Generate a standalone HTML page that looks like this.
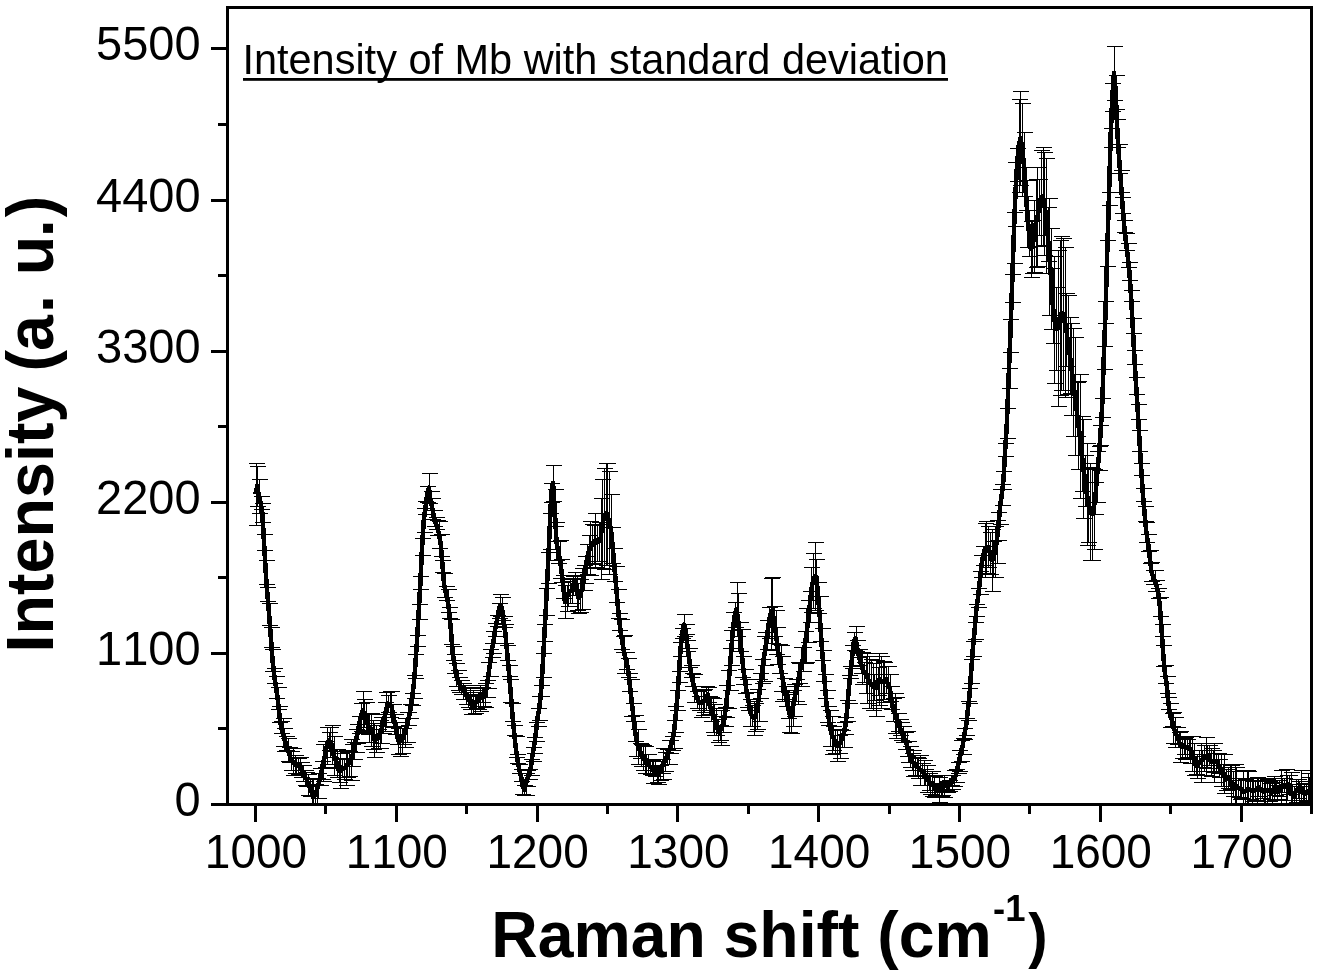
<!DOCTYPE html>
<html><head><meta charset="utf-8"><title>Intensity of Mb with standard deviation</title>
<style>html,body{margin:0;padding:0;background:#fff}svg{display:block}text{font-family:"Liberation Sans",Arial,Helvetica,sans-serif;fill:#000;font-kerning:none}</style></head><body>
<svg width="1319" height="975" viewBox="0 0 1319 975">
<rect width="1319" height="975" fill="#fff"/>
<defs><clipPath id="c"><rect x="227.5" y="7.5" width="1084.0" height="797.0"/></clipPath></defs>
<g clip-path="url(#c)">
<path d="M256.5 463.5V525.5M248.5 463.5H264.5M248.5 525.5H264.5M257.5 466.5V506.5M249.5 466.5H265.5M249.5 506.5H265.5M259.5 479.5V513.5M251.5 479.5H267.5M251.5 513.5H267.5M261.5 496.5V509.5M253.5 496.5H269.5M253.5 509.5H269.5M262.5 503.5V522.5M254.5 503.5H270.5M254.5 522.5H270.5M264.5 534.5V550.5M256.5 534.5H272.5M256.5 550.5H272.5M266.5 560.5V584.5M258.5 560.5H274.5M258.5 584.5H274.5M267.5 587.5V601.5M259.5 587.5H275.5M259.5 601.5H275.5M269.5 603.5V625.5M261.5 603.5H277.5M261.5 625.5H277.5M271.5 627.5V647.5M263.5 627.5H279.5M263.5 647.5H279.5M272.5 649.5V671.5M264.5 649.5H280.5M264.5 671.5H280.5M274.5 668.5V683.5M266.5 668.5H282.5M266.5 683.5H282.5M276.5 676.5V698.5M268.5 676.5H284.5M268.5 698.5H284.5M278.5 687.5V709.5M270.5 687.5H286.5M270.5 709.5H286.5M279.5 706.5V722.5M271.5 706.5H287.5M271.5 722.5H287.5M281.5 721.5V733.5M273.5 721.5H289.5M273.5 733.5H289.5M283.5 718.5V746.5M275.5 718.5H291.5M275.5 746.5H291.5M284.5 728.5V751.5M276.5 728.5H292.5M276.5 751.5H292.5M286.5 736.5V750.5M278.5 736.5H294.5M278.5 750.5H294.5M288.5 738.5V761.5M280.5 738.5H296.5M280.5 761.5H296.5M289.5 747.5V762.5M281.5 747.5H297.5M281.5 762.5H297.5M291.5 751.5V770.5M283.5 751.5H299.5M283.5 770.5H299.5M293.5 748.5V775.5M285.5 748.5H301.5M285.5 775.5H301.5M295.5 755.5V773.5M287.5 755.5H303.5M287.5 773.5H303.5M296.5 757.5V773.5M288.5 757.5H304.5M288.5 773.5H304.5M298.5 758.5V774.5M290.5 758.5H306.5M290.5 774.5H306.5M300.5 757.5V770.5M292.5 757.5H308.5M292.5 770.5H308.5M301.5 762.5V777.5M293.5 762.5H309.5M293.5 777.5H309.5M303.5 765.5V781.5M295.5 765.5H311.5M295.5 781.5H311.5M305.5 770.5V785.5M297.5 770.5H313.5M297.5 785.5H313.5M306.5 772.5V786.5M298.5 772.5H314.5M298.5 786.5H314.5M308.5 774.5V795.5M300.5 774.5H316.5M300.5 795.5H316.5M310.5 779.5V796.5M302.5 779.5H318.5M302.5 796.5H318.5M312.5 778.5V806.5M304.5 778.5H320.5M304.5 806.5H320.5M313.5 779.5V814.5M305.5 779.5H321.5M305.5 814.5H321.5M315.5 784.5V803.5M307.5 784.5H323.5M307.5 803.5H323.5M317.5 778.5V803.5M309.5 778.5H325.5M309.5 803.5H325.5M318.5 773.5V798.5M310.5 773.5H326.5M310.5 798.5H326.5M320.5 768.5V785.5M312.5 768.5H328.5M312.5 785.5H328.5M322.5 761.5V779.5M314.5 761.5H330.5M314.5 779.5H330.5M323.5 744.5V781.5M315.5 744.5H331.5M315.5 781.5H331.5M325.5 741.5V767.5M317.5 741.5H333.5M317.5 767.5H333.5M327.5 727.5V764.5M319.5 727.5H335.5M319.5 764.5H335.5M329.5 732.5V750.5M321.5 732.5H337.5M321.5 750.5H337.5M330.5 727.5V757.5M322.5 727.5H338.5M322.5 757.5H338.5M332.5 725.5V764.5M324.5 725.5H340.5M324.5 764.5H340.5M334.5 736.5V775.5M326.5 736.5H342.5M326.5 775.5H342.5M335.5 751.5V768.5M327.5 751.5H343.5M327.5 768.5H343.5M337.5 749.5V777.5M329.5 749.5H345.5M329.5 777.5H345.5M339.5 758.5V782.5M331.5 758.5H347.5M331.5 782.5H347.5M340.5 753.5V788.5M332.5 753.5H348.5M332.5 788.5H348.5M342.5 759.5V777.5M334.5 759.5H350.5M334.5 777.5H350.5M344.5 758.5V779.5M336.5 758.5H352.5M336.5 779.5H352.5M346.5 750.5V785.5M338.5 750.5H354.5M338.5 785.5H354.5M347.5 752.5V777.5M339.5 752.5H355.5M339.5 777.5H355.5M349.5 751.5V776.5M341.5 751.5H357.5M341.5 776.5H357.5M351.5 739.5V780.5M343.5 739.5H359.5M343.5 780.5H359.5M352.5 744.5V766.5M344.5 744.5H360.5M344.5 766.5H360.5M354.5 742.5V759.5M346.5 742.5H362.5M346.5 759.5H362.5M356.5 729.5V752.5M348.5 729.5H364.5M348.5 752.5H364.5M357.5 724.5V743.5M349.5 724.5H365.5M349.5 743.5H365.5M359.5 716.5V733.5M351.5 716.5H367.5M351.5 733.5H367.5M361.5 703.5V731.5M353.5 703.5H369.5M353.5 731.5H369.5M363.5 691.5V730.5M355.5 691.5H371.5M355.5 730.5H371.5M364.5 699.5V727.5M356.5 699.5H372.5M356.5 727.5H372.5M366.5 702.5V732.5M358.5 702.5H374.5M358.5 732.5H374.5M368.5 713.5V734.5M360.5 713.5H376.5M360.5 734.5H376.5M369.5 714.5V742.5M361.5 714.5H377.5M361.5 742.5H377.5M371.5 713.5V746.5M363.5 713.5H379.5M363.5 746.5H379.5M373.5 720.5V749.5M365.5 720.5H381.5M365.5 749.5H381.5M374.5 723.5V757.5M366.5 723.5H382.5M366.5 757.5H382.5M376.5 725.5V752.5M368.5 725.5H384.5M368.5 752.5H384.5M378.5 729.5V748.5M370.5 729.5H386.5M370.5 748.5H386.5M380.5 720.5V748.5M372.5 720.5H388.5M372.5 748.5H388.5M381.5 717.5V743.5M373.5 717.5H389.5M373.5 743.5H389.5M383.5 714.5V733.5M375.5 714.5H391.5M375.5 733.5H391.5M385.5 702.5V731.5M377.5 702.5H393.5M377.5 731.5H393.5M386.5 692.5V726.5M378.5 692.5H394.5M378.5 726.5H394.5M388.5 695.5V712.5M380.5 695.5H396.5M380.5 712.5H396.5M390.5 691.5V717.5M382.5 691.5H398.5M382.5 717.5H398.5M391.5 691.5V722.5M383.5 691.5H399.5M383.5 722.5H399.5M393.5 704.5V727.5M385.5 704.5H401.5M385.5 727.5H401.5M395.5 714.5V734.5M387.5 714.5H403.5M387.5 734.5H403.5M397.5 722.5V744.5M389.5 722.5H405.5M389.5 744.5H405.5M398.5 728.5V754.5M390.5 728.5H406.5M390.5 754.5H406.5M400.5 726.5V756.5M392.5 726.5H408.5M392.5 756.5H408.5M402.5 728.5V753.5M394.5 728.5H410.5M394.5 753.5H410.5M403.5 728.5V744.5M395.5 728.5H411.5M395.5 744.5H411.5M405.5 718.5V747.5M397.5 718.5H413.5M397.5 747.5H413.5M407.5 712.5V742.5M399.5 712.5H415.5M399.5 742.5H415.5M408.5 712.5V725.5M400.5 712.5H416.5M400.5 725.5H416.5M410.5 704.5V718.5M402.5 704.5H418.5M402.5 718.5H418.5M412.5 693.5V705.5M404.5 693.5H420.5M404.5 705.5H420.5M414.5 675.5V698.5M406.5 675.5H422.5M406.5 698.5H422.5M415.5 654.5V678.5M407.5 654.5H423.5M407.5 678.5H423.5M417.5 635.5V646.5M409.5 635.5H425.5M409.5 646.5H425.5M419.5 604.5V619.5M411.5 604.5H427.5M411.5 619.5H427.5M420.5 576.5V589.5M412.5 576.5H428.5M412.5 589.5H428.5M422.5 538.5V555.5M414.5 538.5H430.5M414.5 555.5H430.5M424.5 508.5V532.5M416.5 508.5H432.5M416.5 532.5H432.5M425.5 501.5V514.5M417.5 501.5H433.5M417.5 514.5H433.5M427.5 486.5V502.5M419.5 486.5H435.5M419.5 502.5H435.5M429.5 473.5V503.5M421.5 473.5H437.5M421.5 503.5H437.5M431.5 491.5V510.5M423.5 491.5H439.5M423.5 510.5H439.5M432.5 498.5V519.5M424.5 498.5H440.5M424.5 519.5H440.5M434.5 510.5V526.5M426.5 510.5H442.5M426.5 526.5H442.5M436.5 517.5V529.5M428.5 517.5H444.5M428.5 529.5H444.5M437.5 520.5V535.5M429.5 520.5H445.5M429.5 535.5H445.5M439.5 521.5V548.5M431.5 521.5H447.5M431.5 548.5H447.5M441.5 534.5V556.5M433.5 534.5H449.5M433.5 556.5H449.5M442.5 560.5V572.5M434.5 560.5H450.5M434.5 572.5H450.5M444.5 573.5V597.5M436.5 573.5H452.5M436.5 597.5H452.5M446.5 586.5V600.5M438.5 586.5H454.5M438.5 600.5H454.5M448.5 589.5V612.5M440.5 589.5H456.5M440.5 612.5H456.5M449.5 607.5V618.5M441.5 607.5H457.5M441.5 618.5H457.5M451.5 619.5V644.5M443.5 619.5H459.5M443.5 644.5H459.5M453.5 646.5V660.5M445.5 646.5H461.5M445.5 660.5H461.5M454.5 654.5V673.5M446.5 654.5H462.5M446.5 673.5H462.5M456.5 663.5V686.5M448.5 663.5H464.5M448.5 686.5H464.5M458.5 670.5V690.5M450.5 670.5H466.5M450.5 690.5H466.5M459.5 677.5V692.5M451.5 677.5H467.5M451.5 692.5H467.5M461.5 680.5V694.5M453.5 680.5H469.5M453.5 694.5H469.5M463.5 683.5V699.5M455.5 683.5H471.5M455.5 699.5H471.5M465.5 685.5V699.5M457.5 685.5H473.5M457.5 699.5H473.5M466.5 687.5V704.5M458.5 687.5H474.5M458.5 704.5H474.5M468.5 692.5V707.5M460.5 692.5H476.5M460.5 707.5H476.5M470.5 688.5V709.5M462.5 688.5H478.5M462.5 709.5H478.5M471.5 695.5V714.5M463.5 695.5H479.5M463.5 714.5H479.5M473.5 690.5V714.5M465.5 690.5H481.5M465.5 714.5H481.5M475.5 696.5V713.5M467.5 696.5H483.5M467.5 713.5H483.5M476.5 694.5V708.5M468.5 694.5H484.5M468.5 708.5H484.5M478.5 692.5V709.5M470.5 692.5H486.5M470.5 709.5H486.5M480.5 685.5V711.5M472.5 685.5H488.5M472.5 711.5H488.5M482.5 687.5V702.5M474.5 687.5H490.5M474.5 702.5H490.5M483.5 688.5V706.5M475.5 688.5H491.5M475.5 706.5H491.5M485.5 683.5V707.5M477.5 683.5H493.5M477.5 707.5H493.5M487.5 680.5V697.5M479.5 680.5H495.5M479.5 697.5H495.5M488.5 662.5V688.5M480.5 662.5H496.5M480.5 688.5H496.5M490.5 649.5V676.5M482.5 649.5H498.5M482.5 676.5H498.5M492.5 643.5V657.5M484.5 643.5H500.5M484.5 657.5H500.5M493.5 631.5V653.5M485.5 631.5H501.5M485.5 653.5H501.5M495.5 623.5V636.5M487.5 623.5H503.5M487.5 636.5H503.5M497.5 615.5V626.5M489.5 615.5H505.5M489.5 626.5H505.5M499.5 603.5V618.5M491.5 603.5H507.5M491.5 618.5H507.5M500.5 594.5V616.5M492.5 594.5H508.5M492.5 616.5H508.5M502.5 597.5V620.5M494.5 597.5H510.5M494.5 620.5H510.5M504.5 616.5V627.5M496.5 616.5H512.5M496.5 627.5H512.5M505.5 624.5V643.5M497.5 624.5H513.5M497.5 643.5H513.5M507.5 645.5V660.5M499.5 645.5H515.5M499.5 660.5H515.5M509.5 665.5V676.5M501.5 665.5H517.5M501.5 676.5H517.5M510.5 679.5V702.5M502.5 679.5H518.5M502.5 702.5H518.5M512.5 703.5V721.5M504.5 703.5H520.5M504.5 721.5H520.5M514.5 725.5V735.5M506.5 725.5H522.5M506.5 735.5H522.5M516.5 736.5V757.5M508.5 736.5H524.5M508.5 757.5H524.5M517.5 754.5V763.5M509.5 754.5H525.5M509.5 763.5H525.5M519.5 764.5V773.5M511.5 764.5H527.5M511.5 773.5H527.5M521.5 769.5V781.5M513.5 769.5H529.5M513.5 781.5H529.5M522.5 773.5V794.5M514.5 773.5H530.5M514.5 794.5H530.5M524.5 785.5V795.5M516.5 785.5H532.5M516.5 795.5H532.5M526.5 773.5V795.5M518.5 773.5H534.5M518.5 795.5H534.5M527.5 770.5V786.5M519.5 770.5H535.5M519.5 786.5H535.5M529.5 769.5V779.5M521.5 769.5H537.5M521.5 779.5H537.5M531.5 759.5V775.5M523.5 759.5H539.5M523.5 775.5H539.5M533.5 747.5V761.5M525.5 747.5H541.5M525.5 761.5H541.5M534.5 737.5V753.5M526.5 737.5H542.5M526.5 753.5H542.5M536.5 722.5V741.5M528.5 722.5H544.5M528.5 741.5H544.5M538.5 708.5V726.5M530.5 708.5H546.5M530.5 726.5H546.5M539.5 696.5V720.5M531.5 696.5H547.5M531.5 720.5H547.5M541.5 685.5V696.5M533.5 685.5H549.5M533.5 696.5H549.5M543.5 653.5V677.5M535.5 653.5H551.5M535.5 677.5H551.5M544.5 624.5V641.5M536.5 624.5H552.5M536.5 641.5H552.5M546.5 588.5V615.5M538.5 588.5H554.5M538.5 615.5H554.5M548.5 552.5V583.5M540.5 552.5H556.5M540.5 583.5H556.5M550.5 513.5V549.5M542.5 513.5H558.5M542.5 549.5H558.5M551.5 483.5V502.5M543.5 483.5H559.5M543.5 502.5H559.5M553.5 465.5V501.5M545.5 465.5H561.5M545.5 501.5H561.5M555.5 489.5V526.5M547.5 489.5H563.5M547.5 526.5H563.5M556.5 522.5V560.5M548.5 522.5H564.5M548.5 560.5H564.5M558.5 541.5V563.5M550.5 541.5H566.5M550.5 563.5H566.5M560.5 540.5V578.5M552.5 540.5H568.5M552.5 578.5H568.5M561.5 559.5V582.5M553.5 559.5H569.5M553.5 582.5H569.5M563.5 575.5V598.5M555.5 575.5H571.5M555.5 598.5H571.5M565.5 585.5V618.5M557.5 585.5H573.5M557.5 618.5H573.5M567.5 585.5V611.5M559.5 585.5H575.5M559.5 611.5H575.5M568.5 581.5V606.5M560.5 581.5H576.5M560.5 606.5H576.5M570.5 579.5V603.5M562.5 579.5H578.5M562.5 603.5H578.5M572.5 578.5V603.5M564.5 578.5H580.5M564.5 603.5H580.5M573.5 576.5V595.5M565.5 576.5H581.5M565.5 595.5H581.5M575.5 572.5V590.5M567.5 572.5H583.5M567.5 590.5H583.5M577.5 575.5V610.5M569.5 575.5H585.5M569.5 610.5H585.5M578.5 583.5V613.5M570.5 583.5H586.5M570.5 613.5H586.5M580.5 579.5V612.5M572.5 579.5H588.5M572.5 612.5H588.5M582.5 568.5V609.5M574.5 568.5H590.5M574.5 609.5H590.5M584.5 565.5V590.5M576.5 565.5H592.5M576.5 590.5H592.5M585.5 556.5V583.5M577.5 556.5H593.5M577.5 583.5H593.5M587.5 544.5V574.5M579.5 544.5H595.5M579.5 574.5H595.5M589.5 535.5V568.5M581.5 535.5H597.5M581.5 568.5H597.5M590.5 521.5V575.5M582.5 521.5H598.5M582.5 575.5H598.5M592.5 524.5V563.5M584.5 524.5H600.5M584.5 563.5H600.5M594.5 525.5V564.5M586.5 525.5H602.5M586.5 564.5H602.5M595.5 513.5V567.5M587.5 513.5H603.5M587.5 567.5H603.5M597.5 524.5V561.5M589.5 524.5H605.5M589.5 561.5H605.5M599.5 522.5V561.5M591.5 522.5H607.5M591.5 561.5H607.5M601.5 498.5V579.5M593.5 498.5H609.5M593.5 579.5H609.5M602.5 479.5V568.5M594.5 479.5H610.5M594.5 568.5H610.5M604.5 468.5V569.5M596.5 468.5H612.5M596.5 569.5H612.5M606.5 463.5V565.5M598.5 463.5H614.5M598.5 565.5H614.5M607.5 463.5V565.5M599.5 463.5H615.5M599.5 565.5H615.5M609.5 471.5V574.5M601.5 471.5H617.5M601.5 574.5H617.5M611.5 494.5V563.5M603.5 494.5H619.5M603.5 563.5H619.5M612.5 527.5V563.5M604.5 527.5H620.5M604.5 563.5H620.5M614.5 548.5V581.5M606.5 548.5H622.5M606.5 581.5H622.5M616.5 566.5V602.5M608.5 566.5H624.5M608.5 602.5H624.5M618.5 589.5V618.5M610.5 589.5H626.5M610.5 618.5H626.5M619.5 613.5V630.5M611.5 613.5H627.5M611.5 630.5H627.5M621.5 619.5V649.5M613.5 619.5H629.5M613.5 649.5H629.5M623.5 636.5V652.5M615.5 636.5H631.5M615.5 652.5H631.5M624.5 635.5V673.5M616.5 635.5H632.5M616.5 673.5H632.5M626.5 652.5V669.5M618.5 652.5H634.5M618.5 669.5H634.5M628.5 658.5V677.5M620.5 658.5H636.5M620.5 677.5H636.5M629.5 673.5V691.5M621.5 673.5H637.5M621.5 691.5H637.5M631.5 679.5V716.5M623.5 679.5H639.5M623.5 716.5H639.5M633.5 703.5V721.5M625.5 703.5H641.5M625.5 721.5H641.5M635.5 715.5V741.5M627.5 715.5H643.5M627.5 741.5H643.5M636.5 721.5V756.5M628.5 721.5H644.5M628.5 756.5H644.5M638.5 729.5V764.5M630.5 729.5H646.5M630.5 764.5H646.5M640.5 743.5V758.5M632.5 743.5H648.5M632.5 758.5H648.5M641.5 744.5V766.5M633.5 744.5H649.5M633.5 766.5H649.5M643.5 745.5V770.5M635.5 745.5H651.5M635.5 770.5H651.5M645.5 746.5V773.5M637.5 746.5H653.5M637.5 773.5H653.5M646.5 754.5V773.5M638.5 754.5H654.5M638.5 773.5H654.5M648.5 754.5V773.5M640.5 754.5H656.5M640.5 773.5H656.5M650.5 759.5V774.5M642.5 759.5H658.5M642.5 774.5H658.5M652.5 760.5V775.5M644.5 760.5H660.5M644.5 775.5H660.5M653.5 759.5V783.5M645.5 759.5H661.5M645.5 783.5H661.5M655.5 761.5V776.5M647.5 761.5H663.5M647.5 776.5H663.5M657.5 766.5V782.5M649.5 766.5H665.5M649.5 782.5H665.5M658.5 765.5V784.5M650.5 765.5H666.5M650.5 784.5H666.5M660.5 765.5V780.5M652.5 765.5H668.5M652.5 780.5H668.5M662.5 759.5V773.5M654.5 759.5H670.5M654.5 773.5H670.5M663.5 748.5V779.5M655.5 748.5H671.5M655.5 779.5H671.5M665.5 752.5V771.5M657.5 752.5H673.5M657.5 771.5H673.5M667.5 749.5V764.5M659.5 749.5H675.5M659.5 764.5H675.5M669.5 740.5V764.5M661.5 740.5H677.5M661.5 764.5H677.5M670.5 740.5V753.5M662.5 740.5H678.5M662.5 753.5H678.5M672.5 736.5V750.5M664.5 736.5H680.5M664.5 750.5H680.5M674.5 720.5V748.5M666.5 720.5H682.5M666.5 748.5H682.5M675.5 706.5V732.5M667.5 706.5H683.5M667.5 732.5H683.5M677.5 690.5V710.5M669.5 690.5H685.5M669.5 710.5H685.5M679.5 671.5V682.5M671.5 671.5H687.5M671.5 682.5H687.5M680.5 642.5V656.5M672.5 642.5H688.5M672.5 656.5H688.5M682.5 628.5V638.5M674.5 628.5H690.5M674.5 638.5H690.5M684.5 614.5V636.5M676.5 614.5H692.5M676.5 636.5H692.5M686.5 624.5V634.5M678.5 624.5H694.5M678.5 634.5H694.5M687.5 640.5V651.5M679.5 640.5H695.5M679.5 651.5H695.5M689.5 648.5V667.5M681.5 648.5H697.5M681.5 667.5H697.5M691.5 665.5V677.5M683.5 665.5H699.5M683.5 677.5H699.5M692.5 673.5V686.5M684.5 673.5H700.5M684.5 686.5H700.5M694.5 674.5V702.5M686.5 674.5H702.5M686.5 702.5H702.5M696.5 686.5V702.5M688.5 686.5H704.5M688.5 702.5H704.5M697.5 691.5V708.5M689.5 691.5H705.5M689.5 708.5H705.5M699.5 696.5V710.5M691.5 696.5H707.5M691.5 710.5H707.5M701.5 689.5V717.5M693.5 689.5H709.5M693.5 717.5H709.5M703.5 690.5V715.5M695.5 690.5H711.5M695.5 715.5H711.5M704.5 689.5V712.5M696.5 689.5H712.5M696.5 712.5H712.5M706.5 686.5V710.5M698.5 686.5H714.5M698.5 710.5H714.5M708.5 687.5V702.5M700.5 687.5H716.5M700.5 702.5H716.5M709.5 696.5V714.5M701.5 696.5H717.5M701.5 714.5H717.5M711.5 697.5V721.5M703.5 697.5H719.5M703.5 721.5H719.5M713.5 698.5V732.5M705.5 698.5H721.5M705.5 732.5H721.5M714.5 704.5V735.5M706.5 704.5H722.5M706.5 735.5H722.5M716.5 708.5V735.5M708.5 708.5H724.5M708.5 735.5H724.5M718.5 719.5V742.5M710.5 719.5H726.5M710.5 742.5H726.5M720.5 725.5V740.5M712.5 725.5H728.5M712.5 740.5H728.5M721.5 710.5V745.5M713.5 710.5H729.5M713.5 745.5H729.5M723.5 716.5V732.5M715.5 716.5H731.5M715.5 732.5H731.5M725.5 707.5V726.5M717.5 707.5H733.5M717.5 726.5H733.5M726.5 685.5V717.5M718.5 685.5H734.5M718.5 717.5H734.5M728.5 670.5V708.5M720.5 670.5H736.5M720.5 708.5H736.5M730.5 648.5V690.5M722.5 648.5H738.5M722.5 690.5H738.5M731.5 630.5V665.5M723.5 630.5H739.5M723.5 665.5H739.5M733.5 612.5V640.5M725.5 612.5H741.5M725.5 640.5H741.5M735.5 602.5V627.5M727.5 602.5H743.5M727.5 627.5H743.5M737.5 582.5V636.5M729.5 582.5H745.5M729.5 636.5H745.5M738.5 593.5V651.5M730.5 593.5H746.5M730.5 651.5H746.5M740.5 622.5V651.5M732.5 622.5H748.5M732.5 651.5H748.5M742.5 629.5V677.5M734.5 629.5H750.5M734.5 677.5H750.5M743.5 656.5V684.5M735.5 656.5H751.5M735.5 684.5H751.5M745.5 669.5V693.5M737.5 669.5H753.5M737.5 693.5H753.5M747.5 679.5V707.5M739.5 679.5H755.5M739.5 707.5H755.5M748.5 692.5V710.5M740.5 692.5H756.5M740.5 710.5H756.5M750.5 699.5V726.5M742.5 699.5H758.5M742.5 726.5H758.5M752.5 705.5V726.5M744.5 705.5H760.5M744.5 726.5H760.5M754.5 701.5V735.5M746.5 701.5H762.5M746.5 735.5H762.5M755.5 703.5V731.5M747.5 703.5H763.5M747.5 731.5H763.5M757.5 689.5V729.5M749.5 689.5H765.5M749.5 729.5H765.5M759.5 679.5V721.5M751.5 679.5H767.5M751.5 721.5H767.5M760.5 673.5V698.5M752.5 673.5H768.5M752.5 698.5H768.5M762.5 659.5V683.5M754.5 659.5H770.5M754.5 683.5H770.5M764.5 636.5V681.5M756.5 636.5H772.5M756.5 681.5H772.5M765.5 632.5V665.5M757.5 632.5H773.5M757.5 665.5H773.5M767.5 620.5V649.5M759.5 620.5H775.5M759.5 649.5H775.5M769.5 607.5V638.5M761.5 607.5H777.5M761.5 638.5H777.5M771.5 578.5V650.5M763.5 578.5H779.5M763.5 650.5H779.5M772.5 577.5V643.5M764.5 577.5H780.5M764.5 643.5H780.5M774.5 606.5V636.5M766.5 606.5H782.5M766.5 636.5H782.5M776.5 610.5V654.5M768.5 610.5H784.5M768.5 654.5H784.5M777.5 627.5V664.5M769.5 627.5H785.5M769.5 664.5H785.5M779.5 644.5V673.5M771.5 644.5H787.5M771.5 673.5H787.5M781.5 645.5V691.5M773.5 645.5H789.5M773.5 691.5H789.5M782.5 656.5V701.5M774.5 656.5H790.5M774.5 701.5H790.5M784.5 678.5V699.5M776.5 678.5H792.5M776.5 699.5H792.5M786.5 686.5V706.5M778.5 686.5H794.5M778.5 706.5H794.5M788.5 692.5V718.5M780.5 692.5H796.5M780.5 718.5H796.5M789.5 694.5V732.5M781.5 694.5H797.5M781.5 732.5H797.5M791.5 701.5V733.5M783.5 701.5H799.5M783.5 733.5H799.5M793.5 690.5V726.5M785.5 690.5H801.5M785.5 726.5H801.5M794.5 684.5V716.5M786.5 684.5H802.5M786.5 716.5H802.5M796.5 679.5V701.5M788.5 679.5H804.5M788.5 701.5H804.5M798.5 662.5V704.5M790.5 662.5H806.5M790.5 704.5H806.5M799.5 663.5V683.5M791.5 663.5H807.5M791.5 683.5H807.5M801.5 647.5V686.5M793.5 647.5H809.5M793.5 686.5H809.5M803.5 647.5V671.5M795.5 647.5H811.5M795.5 671.5H811.5M805.5 631.5V663.5M797.5 631.5H813.5M797.5 663.5H813.5M806.5 608.5V662.5M798.5 608.5H814.5M798.5 662.5H814.5M808.5 600.5V642.5M800.5 600.5H816.5M800.5 642.5H816.5M810.5 591.5V622.5M802.5 591.5H818.5M802.5 622.5H818.5M811.5 567.5V612.5M803.5 567.5H819.5M803.5 612.5H819.5M813.5 553.5V608.5M805.5 553.5H821.5M805.5 608.5H821.5M815.5 542.5V610.5M807.5 542.5H823.5M807.5 610.5H823.5M816.5 559.5V596.5M808.5 559.5H824.5M808.5 596.5H824.5M818.5 582.5V613.5M810.5 582.5H826.5M810.5 613.5H826.5M820.5 596.5V641.5M812.5 596.5H828.5M812.5 641.5H828.5M822.5 628.5V660.5M814.5 628.5H830.5M814.5 660.5H830.5M823.5 650.5V681.5M815.5 650.5H831.5M815.5 681.5H831.5M825.5 674.5V698.5M817.5 674.5H833.5M817.5 698.5H833.5M827.5 690.5V722.5M819.5 690.5H835.5M819.5 722.5H835.5M828.5 706.5V725.5M820.5 706.5H836.5M820.5 725.5H836.5M830.5 710.5V746.5M822.5 710.5H838.5M822.5 746.5H838.5M832.5 716.5V754.5M824.5 716.5H840.5M824.5 754.5H840.5M833.5 726.5V750.5M825.5 726.5H841.5M825.5 750.5H841.5M835.5 730.5V753.5M827.5 730.5H843.5M827.5 753.5H843.5M837.5 729.5V761.5M829.5 729.5H845.5M829.5 761.5H845.5M839.5 735.5V753.5M831.5 735.5H847.5M831.5 753.5H847.5M840.5 729.5V758.5M832.5 729.5H848.5M832.5 758.5H848.5M842.5 730.5V747.5M834.5 730.5H850.5M834.5 747.5H850.5M844.5 722.5V747.5M836.5 722.5H852.5M836.5 747.5H852.5M845.5 717.5V734.5M837.5 717.5H853.5M837.5 734.5H853.5M847.5 700.5V721.5M839.5 700.5H855.5M839.5 721.5H855.5M849.5 675.5V703.5M841.5 675.5H857.5M841.5 703.5H857.5M850.5 666.5V678.5M842.5 666.5H858.5M842.5 678.5H858.5M852.5 645.5V668.5M844.5 645.5H860.5M844.5 668.5H860.5M854.5 632.5V650.5M846.5 632.5H862.5M846.5 650.5H862.5M856.5 626.5V651.5M848.5 626.5H864.5M848.5 651.5H864.5M857.5 640.5V657.5M849.5 640.5H865.5M849.5 657.5H865.5M859.5 649.5V665.5M851.5 649.5H867.5M851.5 665.5H867.5M861.5 653.5V673.5M853.5 653.5H869.5M853.5 673.5H869.5M862.5 652.5V684.5M854.5 652.5H870.5M854.5 684.5H870.5M864.5 662.5V682.5M856.5 662.5H872.5M856.5 682.5H872.5M866.5 656.5V693.5M858.5 656.5H874.5M858.5 693.5H874.5M867.5 653.5V703.5M859.5 653.5H875.5M859.5 703.5H875.5M869.5 656.5V708.5M861.5 656.5H877.5M861.5 708.5H877.5M871.5 659.5V708.5M863.5 659.5H879.5M863.5 708.5H879.5M873.5 663.5V710.5M865.5 663.5H881.5M865.5 710.5H881.5M874.5 674.5V700.5M866.5 674.5H882.5M866.5 700.5H882.5M876.5 660.5V716.5M868.5 660.5H884.5M868.5 716.5H884.5M878.5 667.5V695.5M870.5 667.5H886.5M870.5 695.5H886.5M879.5 653.5V705.5M871.5 653.5H887.5M871.5 705.5H887.5M881.5 656.5V708.5M873.5 656.5H889.5M873.5 708.5H889.5M883.5 661.5V702.5M875.5 661.5H891.5M875.5 702.5H891.5M884.5 662.5V699.5M876.5 662.5H892.5M876.5 699.5H892.5M886.5 666.5V693.5M878.5 666.5H894.5M878.5 693.5H894.5M888.5 666.5V702.5M880.5 666.5H896.5M880.5 702.5H896.5M890.5 674.5V701.5M882.5 674.5H898.5M882.5 701.5H898.5M891.5 686.5V709.5M883.5 686.5H899.5M883.5 709.5H899.5M893.5 698.5V721.5M885.5 698.5H901.5M885.5 721.5H901.5M895.5 693.5V733.5M887.5 693.5H903.5M887.5 733.5H903.5M896.5 697.5V738.5M888.5 697.5H904.5M888.5 738.5H904.5M898.5 713.5V731.5M890.5 713.5H906.5M890.5 731.5H906.5M900.5 719.5V735.5M892.5 719.5H908.5M892.5 735.5H908.5M901.5 722.5V740.5M893.5 722.5H909.5M893.5 740.5H909.5M903.5 726.5V742.5M895.5 726.5H911.5M895.5 742.5H911.5M905.5 732.5V749.5M897.5 732.5H913.5M897.5 749.5H913.5M907.5 731.5V756.5M899.5 731.5H915.5M899.5 756.5H915.5M908.5 741.5V762.5M900.5 741.5H916.5M900.5 762.5H916.5M910.5 746.5V767.5M902.5 746.5H918.5M902.5 767.5H918.5M912.5 753.5V770.5M904.5 753.5H920.5M904.5 770.5H920.5M913.5 750.5V776.5M905.5 750.5H921.5M905.5 776.5H921.5M915.5 757.5V775.5M907.5 757.5H923.5M907.5 775.5H923.5M917.5 757.5V776.5M909.5 757.5H925.5M909.5 776.5H925.5M918.5 758.5V778.5M910.5 758.5H926.5M910.5 778.5H926.5M920.5 755.5V785.5M912.5 755.5H928.5M912.5 785.5H928.5M922.5 763.5V778.5M914.5 763.5H930.5M914.5 778.5H930.5M924.5 760.5V785.5M916.5 760.5H932.5M916.5 785.5H932.5M925.5 769.5V785.5M917.5 769.5H933.5M917.5 785.5H933.5M927.5 765.5V792.5M919.5 765.5H935.5M919.5 792.5H935.5M929.5 773.5V790.5M921.5 773.5H937.5M921.5 790.5H937.5M930.5 775.5V794.5M922.5 775.5H938.5M922.5 794.5H938.5M932.5 771.5V796.5M924.5 771.5H940.5M924.5 796.5H940.5M934.5 776.5V797.5M926.5 776.5H942.5M926.5 797.5H942.5M935.5 784.5V795.5M927.5 784.5H943.5M927.5 795.5H943.5M937.5 785.5V796.5M929.5 785.5H945.5M929.5 796.5H945.5M939.5 777.5V802.5M931.5 777.5H947.5M931.5 802.5H947.5M941.5 786.5V796.5M933.5 786.5H949.5M933.5 796.5H949.5M942.5 783.5V795.5M934.5 783.5H950.5M934.5 795.5H950.5M944.5 775.5V797.5M936.5 775.5H952.5M936.5 797.5H952.5M946.5 781.5V790.5M938.5 781.5H954.5M938.5 790.5H954.5M947.5 782.5V792.5M939.5 782.5H955.5M939.5 792.5H955.5M949.5 780.5V791.5M941.5 780.5H957.5M941.5 791.5H957.5M951.5 775.5V785.5M943.5 775.5H959.5M943.5 785.5H959.5M952.5 775.5V789.5M944.5 775.5H960.5M944.5 789.5H960.5M954.5 770.5V786.5M946.5 770.5H962.5M946.5 786.5H962.5M956.5 769.5V782.5M948.5 769.5H964.5M948.5 782.5H964.5M958.5 762.5V773.5M950.5 762.5H966.5M950.5 773.5H966.5M959.5 750.5V771.5M951.5 750.5H967.5M951.5 771.5H967.5M961.5 740.5V761.5M953.5 740.5H969.5M953.5 761.5H969.5M963.5 738.5V754.5M955.5 738.5H971.5M955.5 754.5H971.5M964.5 728.5V739.5M956.5 728.5H972.5M956.5 739.5H972.5M966.5 718.5V735.5M958.5 718.5H974.5M958.5 735.5H974.5M968.5 701.5V720.5M960.5 701.5H976.5M960.5 720.5H976.5M969.5 688.5V703.5M961.5 688.5H977.5M961.5 703.5H977.5M971.5 659.5V683.5M963.5 659.5H979.5M963.5 683.5H979.5M973.5 641.5V656.5M965.5 641.5H981.5M965.5 656.5H981.5M975.5 622.5V639.5M967.5 622.5H983.5M967.5 639.5H983.5M976.5 604.5V616.5M968.5 604.5H984.5M968.5 616.5H984.5M978.5 588.5V607.5M970.5 588.5H986.5M970.5 607.5H986.5M980.5 571.5V594.5M972.5 571.5H988.5M972.5 594.5H988.5M981.5 555.5V577.5M973.5 555.5H989.5M973.5 577.5H989.5M983.5 546.5V565.5M975.5 546.5H991.5M975.5 565.5H991.5M985.5 523.5V577.5M977.5 523.5H993.5M977.5 577.5H993.5M986.5 521.5V573.5M978.5 521.5H994.5M978.5 573.5H994.5M988.5 526.5V567.5M980.5 526.5H996.5M980.5 567.5H996.5M990.5 532.5V574.5M982.5 532.5H998.5M982.5 574.5H998.5M992.5 529.5V591.5M984.5 529.5H1000.5M984.5 591.5H1000.5M993.5 541.5V577.5M985.5 541.5H1001.5M985.5 577.5H1001.5M995.5 526.5V577.5M987.5 526.5H1003.5M987.5 577.5H1003.5M997.5 520.5V563.5M989.5 520.5H1005.5M989.5 563.5H1005.5M998.5 512.5V540.5M990.5 512.5H1006.5M990.5 540.5H1006.5M1000.5 489.5V524.5M992.5 489.5H1008.5M992.5 524.5H1008.5M1002.5 484.5V505.5M994.5 484.5H1010.5M994.5 505.5H1010.5M1003.5 471.5V489.5M995.5 471.5H1011.5M995.5 489.5H1011.5M1005.5 443.5V456.5M997.5 443.5H1013.5M997.5 456.5H1013.5M1007.5 408.5V438.5M999.5 408.5H1015.5M999.5 438.5H1015.5M1009.5 368.5V388.5M1001.5 368.5H1017.5M1001.5 388.5H1017.5M1010.5 319.5V352.5M1002.5 319.5H1018.5M1002.5 352.5H1018.5M1012.5 274.5V302.5M1004.5 274.5H1020.5M1004.5 302.5H1020.5M1014.5 212.5V263.5M1006.5 212.5H1022.5M1006.5 263.5H1022.5M1015.5 162.5V226.5M1007.5 162.5H1023.5M1007.5 226.5H1023.5M1017.5 148.5V181.5M1009.5 148.5H1025.5M1009.5 181.5H1025.5M1019.5 99.5V192.5M1011.5 99.5H1027.5M1011.5 192.5H1027.5M1020.5 91.5V185.5M1012.5 91.5H1028.5M1012.5 185.5H1028.5M1022.5 103.5V196.5M1014.5 103.5H1030.5M1014.5 196.5H1030.5M1024.5 132.5V196.5M1016.5 132.5H1032.5M1016.5 196.5H1032.5M1026.5 167.5V210.5M1018.5 167.5H1034.5M1018.5 210.5H1034.5M1027.5 180.5V247.5M1019.5 180.5H1035.5M1019.5 247.5H1035.5M1029.5 210.5V256.5M1021.5 210.5H1037.5M1021.5 256.5H1037.5M1031.5 221.5V277.5M1023.5 221.5H1039.5M1023.5 277.5H1039.5M1032.5 220.5V273.5M1024.5 220.5H1040.5M1024.5 273.5H1040.5M1034.5 200.5V272.5M1026.5 200.5H1042.5M1026.5 272.5H1042.5M1036.5 179.5V267.5M1028.5 179.5H1044.5M1028.5 267.5H1044.5M1037.5 167.5V266.5M1029.5 167.5H1045.5M1029.5 266.5H1045.5M1039.5 179.5V235.5M1031.5 179.5H1047.5M1031.5 235.5H1047.5M1041.5 150.5V246.5M1033.5 150.5H1049.5M1033.5 246.5H1049.5M1043.5 147.5V245.5M1035.5 147.5H1051.5M1035.5 245.5H1051.5M1044.5 152.5V255.5M1036.5 152.5H1052.5M1036.5 255.5H1052.5M1046.5 158.5V273.5M1038.5 158.5H1054.5M1038.5 273.5H1054.5M1048.5 207.5V261.5M1040.5 207.5H1056.5M1040.5 261.5H1056.5M1049.5 198.5V315.5M1041.5 198.5H1057.5M1041.5 315.5H1057.5M1051.5 228.5V329.5M1043.5 228.5H1059.5M1043.5 329.5H1059.5M1053.5 268.5V343.5M1045.5 268.5H1061.5M1045.5 343.5H1061.5M1054.5 256.5V383.5M1046.5 256.5H1062.5M1046.5 383.5H1062.5M1056.5 287.5V370.5M1048.5 287.5H1064.5M1048.5 370.5H1064.5M1058.5 250.5V406.5M1050.5 250.5H1066.5M1050.5 406.5H1066.5M1060.5 240.5V395.5M1052.5 240.5H1068.5M1052.5 395.5H1068.5M1061.5 236.5V390.5M1053.5 236.5H1069.5M1053.5 390.5H1069.5M1063.5 238.5V390.5M1055.5 238.5H1071.5M1055.5 390.5H1071.5M1065.5 247.5V397.5M1057.5 247.5H1073.5M1057.5 397.5H1073.5M1066.5 293.5V366.5M1058.5 293.5H1074.5M1058.5 366.5H1074.5M1068.5 295.5V394.5M1060.5 295.5H1076.5M1060.5 394.5H1076.5M1070.5 317.5V393.5M1062.5 317.5H1078.5M1062.5 393.5H1078.5M1071.5 323.5V415.5M1063.5 323.5H1079.5M1063.5 415.5H1079.5M1073.5 328.5V436.5M1065.5 328.5H1081.5M1065.5 436.5H1081.5M1075.5 337.5V455.5M1067.5 337.5H1083.5M1067.5 455.5H1083.5M1077.5 382.5V436.5M1069.5 382.5H1085.5M1069.5 436.5H1085.5M1078.5 381.5V469.5M1070.5 381.5H1086.5M1070.5 469.5H1086.5M1080.5 374.5V498.5M1072.5 374.5H1088.5M1072.5 498.5H1088.5M1082.5 416.5V491.5M1074.5 416.5H1090.5M1074.5 491.5H1090.5M1083.5 419.5V518.5M1075.5 419.5H1091.5M1075.5 518.5H1091.5M1085.5 455.5V506.5M1077.5 455.5H1093.5M1077.5 506.5H1093.5M1087.5 443.5V545.5M1079.5 443.5H1095.5M1079.5 545.5H1095.5M1088.5 467.5V542.5M1080.5 467.5H1096.5M1080.5 542.5H1096.5M1090.5 463.5V560.5M1082.5 463.5H1098.5M1082.5 560.5H1098.5M1092.5 468.5V560.5M1084.5 468.5H1100.5M1084.5 560.5H1100.5M1094.5 469.5V549.5M1086.5 469.5H1102.5M1086.5 549.5H1102.5M1095.5 482.5V514.5M1087.5 482.5H1103.5M1087.5 514.5H1103.5M1097.5 451.5V502.5M1089.5 451.5H1105.5M1089.5 502.5H1105.5M1099.5 446.5V470.5M1091.5 446.5H1107.5M1091.5 470.5H1107.5M1100.5 425.5V445.5M1092.5 425.5H1108.5M1092.5 445.5H1108.5M1102.5 398.5V417.5M1094.5 398.5H1110.5M1094.5 417.5H1110.5M1104.5 346.5V369.5M1096.5 346.5H1112.5M1096.5 369.5H1112.5M1105.5 301.5V323.5M1097.5 301.5H1113.5M1097.5 323.5H1113.5M1107.5 240.5V266.5M1099.5 240.5H1115.5M1099.5 266.5H1115.5M1109.5 192.5V205.5M1101.5 192.5H1117.5M1101.5 205.5H1117.5M1111.5 128.5V147.5M1103.5 128.5H1119.5M1103.5 147.5H1119.5M1112.5 83.5V111.5M1104.5 83.5H1120.5M1104.5 111.5H1120.5M1114.5 46.5V100.5M1106.5 46.5H1122.5M1106.5 100.5H1122.5M1116.5 75.5V109.5M1108.5 75.5H1124.5M1108.5 109.5H1124.5M1117.5 119.5V147.5M1109.5 119.5H1125.5M1109.5 147.5H1125.5M1119.5 144.5V173.5M1111.5 144.5H1127.5M1111.5 173.5H1127.5M1121.5 170.5V192.5M1113.5 170.5H1129.5M1113.5 192.5H1129.5M1122.5 197.5V213.5M1114.5 197.5H1130.5M1114.5 213.5H1130.5M1124.5 220.5V232.5M1116.5 220.5H1132.5M1116.5 232.5H1132.5M1126.5 233.5V250.5M1118.5 233.5H1134.5M1118.5 250.5H1134.5M1128.5 243.5V267.5M1120.5 243.5H1136.5M1120.5 267.5H1136.5M1129.5 262.5V280.5M1121.5 262.5H1137.5M1121.5 280.5H1137.5M1131.5 290.5V301.5M1123.5 290.5H1139.5M1123.5 301.5H1139.5M1133.5 318.5V333.5M1125.5 318.5H1141.5M1125.5 333.5H1141.5M1134.5 350.5V364.5M1126.5 350.5H1142.5M1126.5 364.5H1142.5M1136.5 377.5V394.5M1128.5 377.5H1144.5M1128.5 394.5H1144.5M1138.5 404.5V419.5M1130.5 404.5H1146.5M1130.5 419.5H1146.5M1139.5 430.5V451.5M1131.5 430.5H1147.5M1131.5 451.5H1147.5M1141.5 463.5V475.5M1133.5 463.5H1149.5M1133.5 475.5H1149.5M1143.5 488.5V501.5M1135.5 488.5H1151.5M1135.5 501.5H1151.5M1145.5 506.5V521.5M1137.5 506.5H1153.5M1137.5 521.5H1153.5M1146.5 522.5V542.5M1138.5 522.5H1154.5M1138.5 542.5H1154.5M1148.5 534.5V551.5M1140.5 534.5H1156.5M1140.5 551.5H1156.5M1150.5 550.5V563.5M1142.5 550.5H1158.5M1142.5 563.5H1158.5M1151.5 562.5V581.5M1143.5 562.5H1159.5M1143.5 581.5H1159.5M1153.5 570.5V584.5M1145.5 570.5H1161.5M1145.5 584.5H1161.5M1155.5 570.5V591.5M1147.5 570.5H1163.5M1147.5 591.5H1163.5M1156.5 580.5V591.5M1148.5 580.5H1164.5M1148.5 591.5H1164.5M1158.5 588.5V598.5M1150.5 588.5H1166.5M1150.5 598.5H1166.5M1160.5 597.5V616.5M1152.5 597.5H1168.5M1152.5 616.5H1168.5M1162.5 624.5V636.5M1154.5 624.5H1170.5M1154.5 636.5H1170.5M1163.5 645.5V666.5M1155.5 645.5H1171.5M1155.5 666.5H1171.5M1165.5 665.5V683.5M1157.5 665.5H1173.5M1157.5 683.5H1173.5M1167.5 676.5V693.5M1159.5 676.5H1175.5M1159.5 693.5H1175.5M1168.5 697.5V709.5M1160.5 697.5H1176.5M1160.5 709.5H1176.5M1170.5 703.5V727.5M1162.5 703.5H1178.5M1162.5 727.5H1178.5M1172.5 713.5V726.5M1164.5 713.5H1180.5M1164.5 726.5H1180.5M1173.5 712.5V743.5M1165.5 712.5H1181.5M1165.5 743.5H1181.5M1175.5 717.5V747.5M1167.5 717.5H1183.5M1167.5 747.5H1183.5M1177.5 727.5V744.5M1169.5 727.5H1185.5M1169.5 744.5H1185.5M1179.5 732.5V747.5M1171.5 732.5H1187.5M1171.5 747.5H1187.5M1180.5 731.5V762.5M1172.5 731.5H1188.5M1172.5 762.5H1188.5M1182.5 736.5V758.5M1174.5 736.5H1190.5M1174.5 758.5H1190.5M1184.5 738.5V754.5M1176.5 738.5H1192.5M1176.5 754.5H1192.5M1185.5 737.5V759.5M1177.5 737.5H1193.5M1177.5 759.5H1193.5M1187.5 739.5V757.5M1179.5 739.5H1195.5M1179.5 757.5H1195.5M1189.5 736.5V758.5M1181.5 736.5H1197.5M1181.5 758.5H1197.5M1190.5 736.5V763.5M1182.5 736.5H1198.5M1182.5 763.5H1198.5M1192.5 736.5V771.5M1184.5 736.5H1200.5M1184.5 771.5H1200.5M1194.5 743.5V775.5M1186.5 743.5H1202.5M1186.5 775.5H1202.5M1196.5 756.5V774.5M1188.5 756.5H1204.5M1188.5 774.5H1204.5M1197.5 754.5V778.5M1189.5 754.5H1205.5M1189.5 778.5H1205.5M1199.5 750.5V775.5M1191.5 750.5H1207.5M1191.5 775.5H1207.5M1201.5 743.5V782.5M1193.5 743.5H1209.5M1193.5 782.5H1209.5M1202.5 750.5V767.5M1194.5 750.5H1210.5M1194.5 767.5H1210.5M1204.5 745.5V771.5M1196.5 745.5H1212.5M1196.5 771.5H1212.5M1206.5 737.5V775.5M1198.5 737.5H1214.5M1198.5 775.5H1214.5M1207.5 745.5V768.5M1199.5 745.5H1215.5M1199.5 768.5H1215.5M1209.5 745.5V765.5M1201.5 745.5H1217.5M1201.5 765.5H1217.5M1211.5 748.5V776.5M1203.5 748.5H1219.5M1203.5 776.5H1219.5M1213.5 750.5V772.5M1205.5 750.5H1221.5M1205.5 772.5H1221.5M1214.5 743.5V782.5M1206.5 743.5H1222.5M1206.5 782.5H1222.5M1216.5 753.5V771.5M1208.5 753.5H1224.5M1208.5 771.5H1224.5M1218.5 753.5V773.5M1210.5 753.5H1226.5M1210.5 773.5H1226.5M1219.5 759.5V777.5M1211.5 759.5H1227.5M1211.5 777.5H1227.5M1221.5 754.5V786.5M1213.5 754.5H1229.5M1213.5 786.5H1229.5M1223.5 764.5V786.5M1215.5 764.5H1231.5M1215.5 786.5H1231.5M1224.5 754.5V793.5M1216.5 754.5H1232.5M1216.5 793.5H1232.5M1226.5 769.5V790.5M1218.5 769.5H1234.5M1218.5 790.5H1234.5M1228.5 767.5V788.5M1220.5 767.5H1236.5M1220.5 788.5H1236.5M1230.5 764.5V789.5M1222.5 764.5H1238.5M1222.5 789.5H1238.5M1231.5 765.5V806.5M1223.5 765.5H1239.5M1223.5 806.5H1239.5M1233.5 771.5V796.5M1225.5 771.5H1241.5M1225.5 796.5H1241.5M1235.5 764.5V805.5M1227.5 764.5H1243.5M1227.5 805.5H1243.5M1236.5 767.5V806.5M1228.5 767.5H1244.5M1228.5 806.5H1244.5M1238.5 778.5V797.5M1230.5 778.5H1246.5M1230.5 797.5H1246.5M1240.5 778.5V799.5M1232.5 778.5H1248.5M1232.5 799.5H1248.5M1241.5 780.5V798.5M1233.5 780.5H1249.5M1233.5 798.5H1249.5M1243.5 770.5V813.5M1235.5 770.5H1251.5M1235.5 813.5H1251.5M1245.5 779.5V803.5M1237.5 779.5H1253.5M1237.5 803.5H1253.5M1247.5 770.5V811.5M1239.5 770.5H1255.5M1239.5 811.5H1255.5M1248.5 771.5V807.5M1240.5 771.5H1256.5M1240.5 807.5H1256.5M1250.5 780.5V799.5M1242.5 780.5H1258.5M1242.5 799.5H1258.5M1252.5 778.5V803.5M1244.5 778.5H1260.5M1244.5 803.5H1260.5M1253.5 781.5V801.5M1245.5 781.5H1261.5M1245.5 801.5H1261.5M1255.5 781.5V800.5M1247.5 781.5H1263.5M1247.5 800.5H1263.5M1257.5 777.5V803.5M1249.5 777.5H1265.5M1249.5 803.5H1265.5M1258.5 778.5V796.5M1250.5 778.5H1266.5M1250.5 796.5H1266.5M1260.5 778.5V801.5M1252.5 778.5H1268.5M1252.5 801.5H1268.5M1262.5 781.5V798.5M1254.5 781.5H1270.5M1254.5 798.5H1270.5M1264.5 780.5V803.5M1256.5 780.5H1272.5M1256.5 803.5H1272.5M1265.5 780.5V803.5M1257.5 780.5H1273.5M1257.5 803.5H1273.5M1267.5 779.5V803.5M1259.5 779.5H1275.5M1259.5 803.5H1275.5M1269.5 781.5V801.5M1261.5 781.5H1277.5M1261.5 801.5H1277.5M1270.5 783.5V799.5M1262.5 783.5H1278.5M1262.5 799.5H1278.5M1272.5 782.5V803.5M1264.5 782.5H1280.5M1264.5 803.5H1280.5M1274.5 776.5V800.5M1266.5 776.5H1282.5M1266.5 800.5H1282.5M1275.5 778.5V795.5M1267.5 778.5H1283.5M1267.5 795.5H1283.5M1277.5 785.5V799.5M1269.5 785.5H1285.5M1269.5 799.5H1285.5M1279.5 780.5V796.5M1271.5 780.5H1287.5M1271.5 796.5H1287.5M1281.5 770.5V812.5M1273.5 770.5H1289.5M1273.5 812.5H1289.5M1282.5 778.5V792.5M1274.5 778.5H1290.5M1274.5 792.5H1290.5M1284.5 778.5V792.5M1276.5 778.5H1292.5M1276.5 792.5H1292.5M1286.5 769.5V804.5M1278.5 769.5H1294.5M1278.5 804.5H1294.5M1287.5 775.5V800.5M1279.5 775.5H1295.5M1279.5 800.5H1295.5M1289.5 775.5V794.5M1281.5 775.5H1297.5M1281.5 794.5H1297.5M1291.5 772.5V815.5M1283.5 772.5H1299.5M1283.5 815.5H1299.5M1292.5 784.5V806.5M1284.5 784.5H1300.5M1284.5 806.5H1300.5M1294.5 786.5V805.5M1286.5 786.5H1302.5M1286.5 805.5H1302.5M1296.5 779.5V802.5M1288.5 779.5H1304.5M1288.5 802.5H1304.5M1298.5 779.5V798.5M1290.5 779.5H1306.5M1290.5 798.5H1306.5M1299.5 781.5V802.5M1291.5 781.5H1307.5M1291.5 802.5H1307.5M1301.5 770.5V806.5M1293.5 770.5H1309.5M1293.5 806.5H1309.5M1303.5 786.5V800.5M1295.5 786.5H1311.5M1295.5 800.5H1311.5M1304.5 783.5V804.5M1296.5 783.5H1312.5M1296.5 804.5H1312.5M1306.5 784.5V801.5M1298.5 784.5H1314.5M1298.5 801.5H1314.5M1308.5 773.5V811.5M1300.5 773.5H1316.5M1300.5 811.5H1316.5M1309.5 777.5V802.5M1301.5 777.5H1317.5M1301.5 802.5H1317.5" stroke="#000" stroke-width="1" fill="none" shape-rendering="crispEdges"/>
<polyline points="255.5,494.0 257.2,486.0 258.9,496.1 260.6,502.5 262.3,512.7 264.0,541.9 265.7,571.7 267.4,594.4 269.1,614.1 270.8,636.8 272.5,659.8 274.2,675.4 275.9,686.8 277.6,698.2 279.3,714.1 281.0,726.7 282.7,731.9 284.4,739.4 286.1,743.2 287.8,749.8 289.5,754.4 291.2,760.5 292.9,761.2 294.6,764.4 296.3,765.1 298.0,765.5 299.7,763.9 301.4,769.1 303.1,773.2 304.8,777.3 306.5,779.0 308.2,784.1 309.9,787.7 311.6,791.8 313.3,796.6 315.0,793.7 316.7,790.5 318.4,785.2 320.1,776.3 321.8,770.0 323.5,762.2 325.2,754.3 326.9,745.5 328.6,740.8 330.3,742.2 332.0,744.6 333.7,755.5 335.4,759.6 337.1,763.1 338.8,770.3 340.5,770.5 342.2,767.7 343.9,768.4 345.6,767.6 347.3,764.7 349.0,763.6 350.7,759.6 352.4,755.5 354.1,750.4 355.8,740.5 357.5,733.2 359.2,724.4 360.9,716.7 362.6,710.5 364.3,712.7 366.0,717.1 367.7,723.5 369.4,728.3 371.1,729.2 372.8,734.4 374.5,740.0 376.2,738.2 377.9,738.4 379.6,734.3 381.3,730.2 383.0,723.6 384.7,716.3 386.4,709.1 388.1,703.5 389.8,704.1 391.5,706.5 393.2,715.3 394.9,724.2 396.6,732.7 398.3,740.6 400.0,741.4 401.7,740.6 403.4,735.9 405.1,733.0 406.8,726.9 408.5,718.9 410.2,711.0 411.9,698.9 413.6,686.5 415.3,666.0 417.0,640.8 418.7,611.6 420.4,582.4 422.1,546.5 423.8,520.0 425.5,507.5 427.2,493.9 428.9,487.8 430.6,500.8 432.3,508.3 434.0,517.6 435.7,523.0 437.4,527.8 439.1,534.3 440.8,545.1 442.5,565.9 444.2,584.8 445.9,593.0 447.6,600.2 449.3,612.4 451.0,631.5 452.7,652.8 454.4,663.5 456.1,674.7 457.8,679.9 459.5,684.3 461.2,687.1 462.9,691.1 464.6,691.6 466.3,695.4 468.0,699.7 469.7,698.6 471.4,704.6 473.1,702.2 474.8,704.8 476.5,700.8 478.2,700.6 479.9,697.8 481.6,694.3 483.3,696.7 485.0,695.1 486.7,688.2 488.4,675.1 490.1,662.8 491.8,650.2 493.5,641.9 495.2,629.1 496.9,620.4 498.6,610.6 500.3,605.3 502.0,608.3 503.7,621.7 505.4,633.6 507.1,652.5 508.8,670.5 510.5,690.5 512.2,712.1 513.9,730.3 515.6,746.5 517.3,758.5 519.0,768.3 520.7,775.0 522.4,783.7 524.1,790.0 525.8,784.0 527.5,778.1 529.2,773.9 530.9,767.3 532.6,754.0 534.3,744.8 536.0,731.4 537.7,717.1 539.4,707.8 541.1,690.4 542.8,664.7 544.5,632.7 546.2,601.7 547.9,567.5 549.6,531.0 551.3,492.3 553.0,482.8 554.7,507.6 556.4,540.7 558.1,551.6 559.8,558.7 561.5,571.0 563.2,586.3 564.9,601.8 566.6,597.9 568.3,593.2 570.0,590.8 571.7,590.3 573.4,585.5 575.1,580.6 576.8,592.2 578.5,597.8 580.2,595.6 581.9,588.4 583.6,577.8 585.3,569.0 587.0,558.9 588.7,551.2 590.4,547.7 592.1,543.4 593.8,544.4 595.5,540.1 597.2,542.5 598.9,541.4 600.6,538.6 602.3,523.5 604.0,518.2 605.7,513.6 607.4,514.0 609.1,522.5 610.8,528.4 612.5,545.0 614.2,564.5 615.9,583.9 617.6,603.3 619.3,621.5 621.0,633.8 622.7,644.2 624.4,654.0 626.1,660.5 627.8,667.4 629.5,682.2 631.2,697.4 632.9,712.0 634.6,728.0 636.3,738.5 638.0,746.5 639.7,750.4 641.4,755.0 643.1,757.5 644.8,759.8 646.5,763.1 648.2,763.4 649.9,766.4 651.6,767.6 653.3,771.0 655.0,768.3 656.7,774.2 658.4,774.4 660.1,772.3 661.8,766.2 663.5,763.4 665.2,761.3 666.9,756.3 668.6,752.2 670.3,746.7 672.0,743.0 673.7,734.0 675.4,718.7 677.1,699.9 678.8,676.5 680.5,648.9 682.2,632.8 683.9,624.7 685.6,629.2 687.3,645.3 689.0,657.4 690.7,670.7 692.4,679.6 694.1,688.0 695.8,694.0 697.5,699.3 699.2,703.0 700.9,702.7 702.6,702.3 704.3,700.6 706.0,697.8 707.7,694.7 709.4,704.8 711.1,708.9 712.8,714.9 714.5,719.1 716.2,721.5 717.9,730.5 719.6,732.6 721.3,727.8 723.0,724.1 724.7,716.6 726.4,701.0 728.1,688.8 729.8,668.8 731.5,647.4 733.2,626.0 734.9,614.7 736.6,609.3 738.3,622.0 740.0,636.8 741.7,652.7 743.4,670.2 745.1,681.0 746.8,692.8 748.5,700.6 750.2,712.6 751.9,715.5 753.6,717.8 755.3,716.8 757.0,709.0 758.7,699.6 760.4,685.3 762.1,671.0 763.8,658.6 765.5,648.2 767.2,634.6 768.9,622.5 770.6,613.6 772.3,610.2 774.0,621.2 775.7,632.3 777.4,645.2 779.1,658.8 780.8,668.1 782.5,678.0 784.2,688.3 785.9,696.0 787.6,704.7 789.3,713.3 791.0,717.0 792.7,708.1 794.4,699.7 796.1,689.9 797.8,682.9 799.5,672.6 801.2,666.7 802.9,659.2 804.6,647.1 806.3,635.1 808.0,621.5 809.7,606.3 811.4,589.5 813.1,580.2 814.8,576.4 816.5,577.2 818.2,597.5 819.9,618.2 821.6,644.1 823.3,665.3 825.0,686.2 826.7,706.3 828.4,715.9 830.1,728.2 831.8,735.1 833.5,738.0 835.2,741.3 836.9,745.4 838.6,744.0 840.3,743.2 842.0,738.3 843.7,734.3 845.4,725.8 847.1,710.5 848.8,688.8 850.5,672.0 852.2,656.4 853.9,640.8 855.6,638.4 857.3,648.5 859.0,657.0 860.7,663.4 862.4,668.3 864.1,672.0 865.8,674.5 867.5,677.7 869.2,681.8 870.9,683.3 872.6,686.3 874.3,686.6 876.0,688.2 877.7,680.7 879.4,679.1 881.1,681.8 882.8,681.5 884.5,680.3 886.2,679.4 887.9,684.0 889.6,687.6 891.3,697.6 893.0,709.4 894.7,713.3 896.4,717.6 898.1,721.8 899.8,727.2 901.5,730.9 903.2,734.0 904.9,740.4 906.6,743.6 908.3,751.4 910.0,756.8 911.7,761.7 913.4,762.8 915.1,766.0 916.8,766.6 918.5,767.8 920.2,769.7 921.9,770.5 923.6,772.4 925.3,777.5 927.0,778.5 928.7,781.3 930.4,784.5 932.1,783.1 933.8,786.6 935.5,789.7 937.2,790.7 938.9,789.5 940.6,790.7 942.3,788.8 944.0,786.2 945.7,785.7 947.4,786.9 949.1,785.1 950.8,780.4 952.5,782.3 954.2,778.3 955.9,775.4 957.6,767.5 959.3,760.6 961.0,750.8 962.7,745.9 964.4,733.9 966.1,726.3 967.8,710.5 969.5,695.2 971.2,671.2 972.9,648.4 974.6,630.3 976.3,610.1 978.0,597.3 979.7,582.5 981.4,566.1 983.1,555.3 984.8,549.9 986.5,547.2 988.2,546.8 989.9,552.7 991.6,560.0 993.3,559.3 995.0,551.2 996.7,541.6 998.4,526.2 1000.1,506.6 1001.8,494.2 1003.5,479.9 1005.2,449.6 1006.9,422.8 1008.6,378.4 1010.3,335.7 1012.0,288.3 1013.7,237.5 1015.4,194.2 1017.1,164.2 1018.8,145.3 1020.5,138.0 1022.2,149.1 1023.9,164.3 1025.6,188.6 1027.3,213.7 1029.0,232.8 1030.7,249.0 1032.4,246.5 1034.1,236.0 1035.8,223.3 1037.5,216.8 1039.2,206.6 1040.9,198.0 1042.6,196.0 1044.3,203.5 1046.0,215.3 1047.7,233.9 1049.4,256.6 1051.1,278.4 1052.8,305.2 1054.5,319.7 1056.2,328.5 1057.9,328.1 1059.6,317.9 1061.3,312.9 1063.0,313.8 1064.7,322.0 1066.4,329.4 1068.1,344.4 1069.8,354.6 1071.5,368.8 1073.2,382.1 1074.9,396.1 1076.6,409.1 1078.3,424.8 1080.0,436.4 1081.7,453.6 1083.4,468.9 1085.1,480.8 1086.8,494.0 1088.5,504.7 1090.2,511.5 1091.9,514.1 1093.6,508.9 1095.3,498.1 1097.0,476.3 1098.7,458.2 1100.4,435.1 1102.1,407.8 1103.8,357.2 1105.5,311.9 1107.2,252.8 1108.9,198.3 1110.6,137.1 1112.3,96.8 1114.0,72.8 1115.7,92.0 1117.4,133.1 1119.1,158.6 1120.8,181.2 1122.5,204.9 1124.2,226.3 1125.9,241.3 1127.6,255.0 1129.3,270.9 1131.0,295.4 1132.7,325.9 1134.4,357.1 1136.1,385.6 1137.8,411.5 1139.5,440.7 1141.2,468.7 1142.9,494.2 1144.6,513.4 1146.3,531.7 1148.0,542.9 1149.7,556.5 1151.4,571.4 1153.1,577.0 1154.8,580.3 1156.5,585.7 1158.2,592.9 1159.9,606.9 1161.6,630.3 1163.3,655.3 1165.0,673.9 1166.7,684.4 1168.4,703.1 1170.1,714.9 1171.8,719.3 1173.5,727.5 1175.2,732.1 1176.9,735.6 1178.6,740.0 1180.3,746.2 1182.0,746.8 1183.7,745.8 1185.4,747.8 1187.1,747.7 1188.8,747.0 1190.5,749.5 1192.2,753.6 1193.9,759.2 1195.6,765.1 1197.3,765.6 1199.0,762.6 1200.7,762.7 1202.4,759.0 1204.1,757.8 1205.8,756.2 1207.5,756.6 1209.2,755.1 1210.9,761.9 1212.6,761.3 1214.3,762.5 1216.0,761.7 1217.7,763.3 1219.4,767.9 1221.1,770.0 1222.8,775.0 1224.5,773.8 1226.2,779.6 1227.9,777.4 1229.6,776.9 1231.3,785.6 1233.0,783.4 1234.7,784.5 1236.4,786.6 1238.1,787.7 1239.8,788.4 1241.5,788.9 1243.2,791.9 1244.9,790.8 1246.6,790.4 1248.3,788.8 1250.0,789.4 1251.7,790.1 1253.4,791.0 1255.1,790.3 1256.8,790.0 1258.5,787.3 1260.2,789.7 1261.9,789.8 1263.6,791.7 1265.3,791.4 1267.0,790.7 1268.7,790.7 1270.4,791.0 1272.1,792.5 1273.8,788.0 1275.5,786.4 1277.2,791.8 1278.9,787.7 1280.6,791.0 1282.3,785.1 1284.0,784.9 1285.7,786.4 1287.4,787.5 1289.1,784.6 1290.8,793.7 1292.5,794.8 1294.2,795.7 1295.9,790.7 1297.6,788.6 1299.3,791.6 1301.0,787.8 1302.7,793.0 1304.4,793.7 1306.1,792.6 1307.8,792.0 1309.5,789.7" stroke="#000" stroke-width="4.6" fill="none" stroke-linejoin="round" stroke-linecap="butt" shape-rendering="crispEdges"/>
</g>
<rect x="227.5" y="7.5" width="1084.0" height="797.0" fill="none" stroke="#000" stroke-width="3" shape-rendering="crispEdges"/>
<path d="M255.5 804.5V821.5M396.3 804.5V821.5M537.1 804.5V821.5M677.9 804.5V821.5M818.7 804.5V821.5M959.5 804.5V821.5M1100.3 804.5V821.5M1241.1 804.5V821.5M325.9 804.5V814.0M466.7 804.5V814.0M607.5 804.5V814.0M748.3 804.5V814.0M889.1 804.5V814.0M1029.9 804.5V814.0M1170.7 804.5V814.0M1311.5 804.5V814.0M227.5 804.5H210.5M227.5 653.5H210.5M227.5 502.5H210.5M227.5 351.5H210.5M227.5 200.5H210.5M227.5 48.5H210.5M227.5 728.5H218.0M227.5 577.5H218.0M227.5 426.5H218.0M227.5 275.5H218.0M227.5 124.5H218.0" stroke="#000" stroke-width="3" fill="none" shape-rendering="crispEdges"/>
<text transform="translate(256.0,867.9) scale(1,1.03)" font-size="46" text-anchor="middle">1000</text>
<text transform="translate(396.8,867.9) scale(1,1.03)" font-size="46" text-anchor="middle">1100</text>
<text transform="translate(537.6,867.9) scale(1,1.03)" font-size="46" text-anchor="middle">1200</text>
<text transform="translate(678.4,867.9) scale(1,1.03)" font-size="46" text-anchor="middle">1300</text>
<text transform="translate(819.2,867.9) scale(1,1.03)" font-size="46" text-anchor="middle">1400</text>
<text transform="translate(960.0,867.9) scale(1,1.03)" font-size="46" text-anchor="middle">1500</text>
<text transform="translate(1100.8,867.9) scale(1,1.03)" font-size="46" text-anchor="middle">1600</text>
<text transform="translate(1241.6,867.9) scale(1,1.03)" font-size="46" text-anchor="middle">1700</text>
<text transform="translate(200.6,816.4) scale(1,1.01)" font-size="47" text-anchor="end">0</text>
<text transform="translate(200.6,665.4) scale(1,1.01)" font-size="47" text-anchor="end">1100</text>
<text transform="translate(200.6,514.4) scale(1,1.01)" font-size="47" text-anchor="end">2200</text>
<text transform="translate(200.6,363.4) scale(1,1.01)" font-size="47" text-anchor="end">3300</text>
<text transform="translate(200.6,212.4) scale(1,1.01)" font-size="47" text-anchor="end">4400</text>
<text transform="translate(200.6,60.4) scale(1,1.01)" font-size="47" text-anchor="end">5500</text>
<text transform="translate(242.4,74) scale(1.0,1.01)" font-size="41.5">Intensity of Mb with standard deviation</text>
<rect x="243" y="78" width="705" height="2.8" fill="#000"/>
<text transform="translate(491.2,957) scale(0.99,1)" font-size="65" font-weight="bold">Raman shift (cm</text>
<text transform="translate(993,921.4)" font-size="36.5" font-weight="bold">-1</text>
<text transform="translate(1028.3,955.6) scale(0.96,1)" font-size="60.5" font-weight="bold">)</text>
<text transform="translate(53.1,652.4) rotate(-90) scale(0.974,1)" font-size="66.4" font-weight="bold" dx="0 0 0 0 0 0 0 0 0 0 -3.2 -1 2 0 1.9 -1.4 2">Intensity (a. u.)</text>
</svg></body></html>
